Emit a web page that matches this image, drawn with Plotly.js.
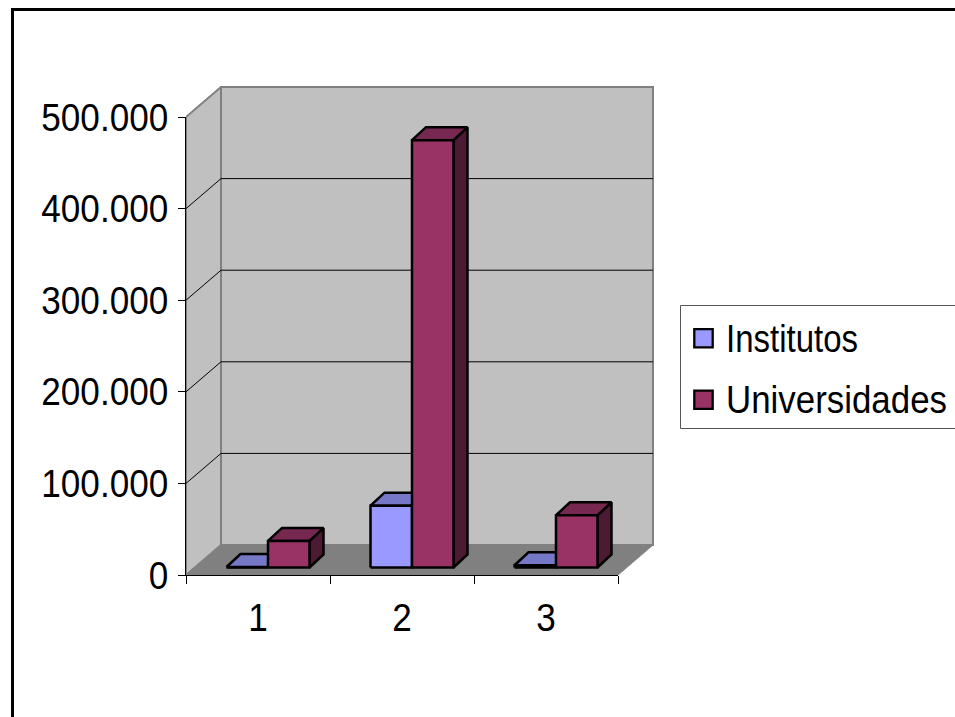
<!DOCTYPE html>
<html>
<head>
<meta charset="utf-8">
<script src="https://cdn.plot.ly/plotly-3.0.1.min.js"></script>
<style>html,body{margin:0;padding:0;background:#fff;overflow:hidden}#chart{width:955px;height:717px}</style>
</head>
<body>
<div id="chart"></div>
<script>
// ---- data ----
const categories = [1, 2, 3];
const institutos = [500, 67500, 2500];
const universidades = [29000, 466500, 57000];
const seriesNames = ['Institutos', 'Universidades'];
const yTicks = [0, 100000, 200000, 300000, 400000, 500000];

// ---- styles ----
const W = 955, H = 717;
const plotLeft = 186, plotRight = 618, plotTop = 117, plotBottom = 575;
const sceneRight = 670, sceneTop = 70;           // wider hidden subplot so the 3-D walls are not clipped
const pxX = (plotRight - plotLeft) / 3;          // px per category
const pxY = (plotBottom - plotTop) / 500000;     // px per value unit
const X = px => px / pxX, Y = px => px / pxY;    // pixel offsets to data units

const wallDX = X(35), wallDY = Y(30);
const barShiftX = X(10), barShiftY = Y(7.5);
const barW = X(41.5), barDX = X(14), barDY = Y(13);

const colors = [
  {front: '#9999FF', top: '#7777C7', side: '#4D4D80'},
  {front: '#993366', top: '#772850', side: '#4D1A33'}
];
const xMin = 0.5, xMax = 3.5, yMax = 500000;
const legendTextWidths = [132, 221];
const legendTextStretchY = 1.085;
const tickTextSqueeze = 0.9;

function poly(xs, ys, fill, line, width) {
  return {
    type: 'scatter', mode: 'lines', x: xs, y: ys, xaxis: 'x2', yaxis: 'y2', fill: 'toself', fillcolor: fill,
    line: {color: line, width: width}, showlegend: false, hoverinfo: 'skip'
  };
}

const traces = [];
// visible axes carry the legend entries
seriesNames.forEach((name, i) => {
  traces.push({
    type: 'scatter', mode: 'markers', x: [null], y: [null], name: name, legendgroup: name,
    marker: {symbol: 'square', size: 16, color: colors[i].front, line: {color: '#000', width: 2}},
    hoverinfo: 'skip'
  });
});
// side wall, back wall, floor
traces.push(poly([xMin, xMin + wallDX, xMin + wallDX, xMin, xMin], [0, wallDY, yMax + wallDY, yMax, 0], '#C0C0C0', '#808080', 2));
traces.push(poly([xMin + wallDX, xMax + wallDX, xMax + wallDX, xMin + wallDX, xMin + wallDX], [wallDY, wallDY, yMax + wallDY, yMax + wallDY, wallDY], '#C0C0C0', '#808080', 2));
traces.push(poly([xMin, xMin + wallDX, xMax + wallDX, xMax, xMin], [0, wallDY, wallDY, 0, 0], '#808080', '#808080', 1));

// gridlines over walls
const gx = [], gy = [];
yTicks.slice(1, -1).forEach(v => {
  gx.push(xMin, xMin + wallDX, xMax + wallDX, null);
  gy.push(v, v + wallDY, v + wallDY, null);
});
traces.push({type: 'scatter', mode: 'lines', x: gx, y: gy, xaxis: 'x2', yaxis: 'y2', line: {color: '#000', width: 1}, showlegend: false, hoverinfo: 'skip'});

// 3-D bars
function addBar(left, value, c) {
  const x0 = left, x1 = left + barW, b = barShiftY, t = barShiftY + value;
  traces.push(poly([x1, x1 + barDX, x1 + barDX, x1, x1], [b, b + barDY, t + barDY, t, b], c.side, '#000', 2.5));
  traces.push(poly([x0, x0 + barDX, x1 + barDX, x1, x0], [t, t + barDY, t + barDY, t, t], c.top, '#000', 2.5));
  traces.push(poly([x0, x1, x1, x0, x0], [b, b, t, t, b], c.front, '#000', 2.5));
}
categories.forEach((cat, i) => {
  const left = cat + barShiftX - barW;
  addBar(left, institutos[i], colors[0]);
  addBar(left + barW, universidades[i], colors[1]);
});

const layout = {
  width: W, height: H, autosize: false,
  margin: {l: 0, r: 0, t: 0, b: 0, autoexpand: false},
  paper_bgcolor: '#fff', plot_bgcolor: 'rgba(0,0,0,0)',
  font: {family: '"Liberation Sans", Arial, sans-serif', size: 39, color: '#000'},
  separators: ',.',
  showlegend: true,
  xaxis: {
    domain: [plotLeft / W, plotRight / W], range: [xMin, xMax], anchor: 'y', showgrid: false, zeroline: false,
    showline: true, linecolor: '#000', linewidth: 1,
    tickmode: 'array', tickvals: categories, ticktext: categories.map(String), ticks: '', ticklabelstandoff: 8,
    minor: {tickmode: 'array', tickvals: [0.5, 1.5, 2.5, 3.5], ticks: 'outside', ticklen: 8, tickcolor: '#000', tickwidth: 1, showgrid: false},
    fixedrange: true, automargin: false
  },
  yaxis: {
    domain: [1 - plotBottom / H, 1 - plotTop / H], range: [0, yMax], anchor: 'x', showgrid: false, zeroline: false,
    showline: true, linecolor: '#000', linewidth: 1,
    tickmode: 'array', tickvals: yTicks, ticktext: yTicks.map(v => v === 0 ? '0' : (v / 1000) + '.000'),
    ticks: 'outside', ticklen: 7, tickcolor: '#000', tickwidth: 1, ticklabelstandoff: 2,
    fixedrange: true, automargin: false
  },
  xaxis2: {
    domain: [plotLeft / W, sceneRight / W], range: [xMin, xMin + X(sceneRight - plotLeft)], anchor: 'y2',
    visible: false, fixedrange: true
  },
  yaxis2: {
    domain: [1 - plotBottom / H, 1 - sceneTop / H], range: [0, Y(plotBottom - sceneTop)], anchor: 'x2',
    visible: false, fixedrange: true
  },
  legend: {
    x: 686 / W, xanchor: 'left', y: 1 - 309 / H, yanchor: 'top',
    bgcolor: 'rgba(0,0,0,0)', borderwidth: 0, font: {size: 35}, tracegroupgap: 13, itemclick: false, itemdoubleclick: false
  },
  shapes: [
    {type: 'rect', xref: 'paper', yref: 'paper', x0: 680.5 / W, x1: 975 / W, y0: 1 - 428.5 / H, y1: 1 - 305.5 / H, fillcolor: '#fff', line: {color: '#555', width: 1}, layer: 'below'},
    {type: 'rect', xref: 'paper', yref: 'paper', x0: 12.5 / W, x1: 985 / W, y0: 1 - 760 / H, y1: 1 - 9.5 / H, fillcolor: 'rgba(0,0,0,0)', line: {color: '#000', width: 3}, layer: 'below'}
  ]
};

Plotly.newPlot('chart', traces, layout, {displayModeBar: false, staticPlot: true}).then(gd => {
  // enlarge the legend swatches to the reference size (Plotly caps them at 16px)
  gd.querySelectorAll('.legendpoints path').forEach(p => {
    p.setAttribute('transform', 'translate(17.5,0) scale(1.15)');
  });
  // the reference type is tall and narrow: squeeze glyphs horizontally, stretch vertically about the baseline
  gd.querySelectorAll('.legendtext').forEach((t, i) => {
    t.setAttribute('textLength', legendTextWidths[i]);
    t.setAttribute('lengthAdjust', 'spacingAndGlyphs');
    const y = parseFloat(t.getAttribute('y')) || 0;
    t.setAttribute('transform', 'translate(0,' + (-y * (legendTextStretchY - 1)) + ') scale(1,' + legendTextStretchY + ')');
  });
  gd.querySelectorAll('.xtick text, .ytick text').forEach(t => {
    t.setAttribute('textLength', t.getComputedTextLength() * tickTextSqueeze);
    t.setAttribute('lengthAdjust', 'spacingAndGlyphs');
  });
});
</script>
</body>
</html>
